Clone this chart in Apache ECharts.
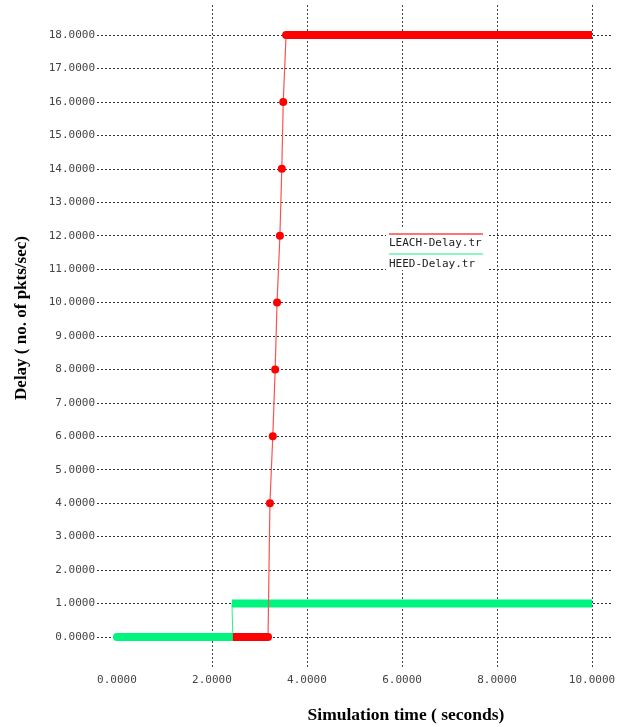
<!DOCTYPE html>
<html><head><meta charset="utf-8">
<script src="https://cdn.jsdelivr.net/npm/echarts@6/dist/echarts.min.js"></script>
<style>html,body{margin:0;padding:0;background:#fff}#c{width:630px;height:727px}</style>
</head><body><div id="c"></div>
<script>
// Tick labels
var xTickValues = [0, 2, 4, 6, 8, 10];
var xGridValues = [2, 4, 6, 8, 10];
var yTickValues = [0,1,2,3,4,5,6,7,8,9,10,11,12,13,14,15,16,17,18];
// LEACH-Delay.tr
var leachLow = [[2.44, 0], [3.18, 0]];
var leachRise = [[3.18, 0], [3.22, 4], [3.28, 6], [3.33, 8], [3.37, 10], [3.43, 12], [3.47, 14], [3.50, 16], [3.56, 18]];
var leachHigh = [[3.56, 18], [10, 18]];
// HEED-Delay.tr
var heedLow = [[0, 0], [2.44, 0]];
var heedRise = [[2.44, 0], [2.42, 1]];
var heedHigh = [[2.42, 1], [10, 1]];
var seriesNames = ['LEACH-Delay.tr', 'HEED-Delay.tr'];

var RED = '#ff0000', GREEN = '#00f57f';
var mono = 'DejaVu Sans Mono';
var chart = echarts.init(document.getElementById('c'));
function thick(name, data, color, cap) {
  return {name: name, type: 'line', data: data, symbol: 'none', silent: true,
    lineStyle: {color: color, width: 8, cap: cap || 'butt'}, z: 3};
}
chart.setOption({
  animation: false,
  grid: {left: 97, right: 18, top: 5, bottom: 60},
  xAxis: {
    type: 'value', min: -0.42, max: 10.42,
    axisLine: {show: false},
    axisTick: {show: false, customValues: xGridValues},
    axisLabel: {customValues: xTickValues, margin: 8, fontFamily: mono, fontSize: 11, color: '#444',
      formatter: function (v) { return v.toFixed(4); }},
    splitLine: {show: true, lineStyle: {color: '#444', type: [2, 2], width: 1}}
  },
  yAxis: {
    type: 'value', min: -0.9, max: 18.9,
    axisLine: {show: false},
    axisTick: {show: false, customValues: yTickValues},
    axisLabel: {customValues: yTickValues, margin: 2, fontFamily: mono, fontSize: 11, color: '#444',
      formatter: function (v) { return v.toFixed(4); }},
    splitLine: {show: true, lineStyle: {color: '#333', type: [2, 2], width: 1}}
  },
  series: [
    {name: seriesNames[1], type: 'line', data: heedRise, symbol: 'none', lineStyle: {color: '#33ee88', width: 1}, z: 2},
    thick(seriesNames[1], heedLow, GREEN, 'round'),
    {name: seriesNames[0], type: 'line', data: leachRise, symbol: 'circle', symbolSize: 8,
      showSymbol: true,
      itemStyle: {color: RED}, lineStyle: {color: '#ff5050', width: 1.2}, z: 4},
    thick(seriesNames[0], leachLow, RED),
    thick(seriesNames[0], leachHigh, RED),
    thick(seriesNames[1], heedHigh, GREEN)
  ],
  graphic: [
    {type: 'rect', shape: {x: 386, y: 229, width: 101, height: 41}, style: {fill: '#fff'}, z: 10},
    {type: 'line', shape: {x1: 389, y1: 234, x2: 483, y2: 234}, style: {stroke: '#ff4444', lineWidth: 1.5}, z: 11},
    {type: 'text', x: 389, y: 243, z: 11, style: {text: seriesNames[0], font: '11px "DejaVu Sans Mono"', fill: '#222', verticalAlign: 'middle'}},
    {type: 'line', shape: {x1: 389, y1: 254, x2: 483, y2: 254}, style: {stroke: '#66f5b0', lineWidth: 1.5}, z: 11},
    {type: 'text', x: 389, y: 264, z: 11, style: {text: seriesNames[1], font: '11px "DejaVu Sans Mono"', fill: '#222', verticalAlign: 'middle'}},
    {type: 'text', x: 22, y: 318, rotation: Math.PI / 2,
      style: {text: 'Delay ( no. of pkts/sec)', font: 'bold 17px "Liberation Serif"', fill: '#000', align: 'center', verticalAlign: 'middle'}},
    {type: 'text', x: 406, y: 715,
      style: {text: 'Simulation time ( seconds)', font: 'bold 17.5px "Liberation Serif"', fill: '#000', align: 'center', verticalAlign: 'middle'}}
  ]
});
</script></body></html>
